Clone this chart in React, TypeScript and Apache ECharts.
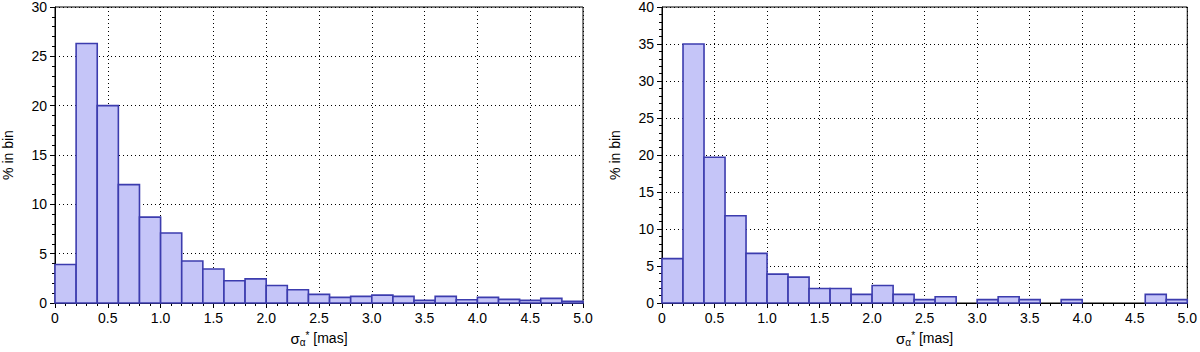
import React, { useEffect, useRef } from "react";
import * as echarts from "echarts";

const binEdges = [0, 0.2, 0.4, 0.6, 0.8, 1.0, 1.2, 1.4, 1.6, 1.8, 2.0, 2.2, 2.4, 2.6, 2.8, 3.0, 3.2, 3.4, 3.6, 3.8, 4.0, 4.2, 4.4, 4.6, 4.8, 5.0];
const leftPct = [3.9, 26.3, 20.0, 12.0, 8.7, 7.1, 4.25, 3.45, 2.25, 2.45, 1.77, 1.34, 0.87, 0.57, 0.67, 0.8, 0.67, 0.27, 0.67, 0.33, 0.57, 0.37, 0.27, 0.47, 0.17];
const rightPct = [6.0, 35.0, 19.7, 11.8, 6.7, 3.9, 3.5, 1.96, 1.96, 1.16, 2.36, 1.16, 0.45, 0.85, 0, 0.45, 0.85, 0.45, 0, 0.45, 0, 0, 0, 1.16, 0.45];
const leftYMax = 30;
const rightYMax = 40;
const xMin = 0;
const xMax = 5;

const FONT = "Liberation Sans";
const FILL = "#c5c5f8";
const STROKE = "#3c3cae";

function toData(vals: number[]) {
  return vals.map((v, i) => [binEdges[i], binEdges[i + 1], v]);
}

function xAxis(gridIndex: number) {
  return {
    type: "value",
    gridIndex,
    min: xMin,
    max: xMax,
    interval: 0.5,
    name: "{s|σ}{sub|α}{sup|*}{t| [mas]}",
    nameLocation: "middle",
    nameGap: 26,
    nameTextStyle: {
      rich: {
        s: { fontFamily: FONT, fontSize: 15, color: "#000" },
        sub: { fontFamily: FONT, fontSize: 10, color: "#000", padding: [8, 0, 0, 0] },
        sup: { fontFamily: FONT, fontSize: 10, color: "#000", padding: [0, 0, 6, 0] },
        t: { fontFamily: FONT, fontSize: 14, color: "#000" },
      },
      fontFamily: FONT,
      fontSize: 14,
      color: "#000",
    },
    axisLine: { show: true, lineStyle: { color: "#000", width: 1 } },
    axisTick: { show: true, length: 5, lineStyle: { color: "#000" } },
    minorTick: { show: true, splitNumber: 5, length: 3, lineStyle: { color: "#000" } },
    axisLabel: {
      fontFamily: FONT,
      fontSize: 14,
      color: "#000",
      margin: 8,
      showMinLabel: true,
      showMaxLabel: true,
      formatter: (v: number) => (v === 0 ? "0" : v.toFixed(1)),
    },
    splitLine: { show: true, lineStyle: { color: "#000", type: [1, 3], width: 1 } },
  };
}

function yAxis(gridIndex: number, max: number) {
  return {
    type: "value",
    gridIndex,
    min: 0,
    max,
    interval: 5,
    name: "% in bin",
    nameLocation: "middle",
    nameGap: 40,
    nameTextStyle: { fontFamily: FONT, fontSize: 14, color: "#000" },
    axisLine: { show: true, lineStyle: { color: "#000", width: 1 } },
    axisTick: { show: true, length: 5, lineStyle: { color: "#000" } },
    minorTick: { show: true, splitNumber: 5, length: 3, lineStyle: { color: "#000" } },
    axisLabel: { fontFamily: FONT, fontSize: 14, color: "#000", margin: 8 },
    splitLine: { show: true, lineStyle: { color: "#000", type: [1, 3], width: 1 } },
  };
}

function renderItem(params: any, api: any) {
  const x0 = api.value(0);
  const x1 = api.value(1);
  const y = api.value(2);
  if (!y) return null;
  const p0 = api.coord([x0, y]);
  const p1 = api.coord([x1, 0]);
  return {
    type: "rect",
    shape: { x: p0[0], y: p0[1], width: p1[0] - p0[0], height: p1[1] - p0[1] },
    style: { fill: FILL, stroke: STROKE, lineWidth: 1.6 },
  };
}

export default function App() {
  const ref = useRef<HTMLDivElement>(null);
  useEffect(() => {
    document.body.style.margin = "0";
    const chart = echarts.init(ref.current!, null, { renderer: "svg" });
    chart.setOption({
      animation: false,
      backgroundColor: "#fff",
      grid: [
        { left: 54, right: 617, top: 6, bottom: 47, show: true, borderColor: "#000", borderWidth: 1, backgroundColor: "transparent" },
        { left: 662, right: 11, top: 6, bottom: 47, show: true, borderColor: "#000", borderWidth: 1, backgroundColor: "transparent" },
      ],
      xAxis: [xAxis(0), xAxis(1)],
      yAxis: [yAxis(0, leftYMax), yAxis(1, rightYMax)],
      series: [
        {
          type: "custom",
          xAxisIndex: 0,
          yAxisIndex: 0,
          renderItem,
          encode: { x: [0, 1], y: 2 },
          data: toData(leftPct),
          z: 3,
        },
        {
          type: "custom",
          xAxisIndex: 1,
          yAxisIndex: 1,
          renderItem,
          encode: { x: [0, 1], y: 2 },
          data: toData(rightPct),
          z: 3,
        },
      ],
    });
    return () => chart.dispose();
  }, []);
  return <div ref={ref} style={{ width: 1200, height: 352 }} />;
}
